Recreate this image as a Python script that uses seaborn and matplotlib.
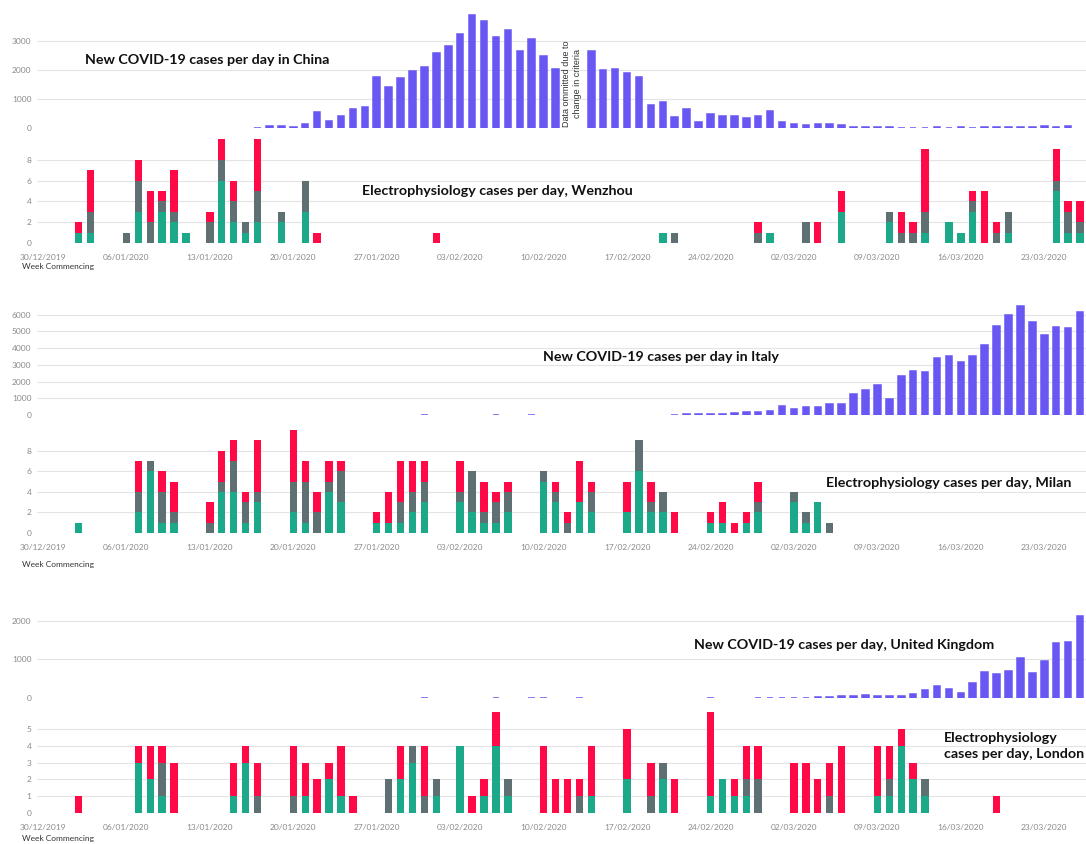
import numpy as np
import pandas as pd
import matplotlib
matplotlib.use("Agg")
import matplotlib.pyplot as plt
import seaborn as sns

# --- dates: one category per day, 30/12/2019 -> 25/03/2020 ---
dates = pd.date_range("2019-12-30", periods=88).strftime("%d/%m/%Y").tolist()

# --- new COVID-19 cases per day (one row per week commencing) ---
china_cases = [
    0, 0, 0, 0, 0, 0, 0,
    0, 0, 0, 0, 0, 0, 0,
    0, 0, 0, 0, 17, 60, 60,
    50, 150, 540, 230, 430, 660, 730,
    1750, 1420, 1740, 1980, 2100, 2580, 2830,
    3230, 3890, 3700, 3140, 3390, 2650, 3060,
    2480, 2020, 0, 0, 2640, 2010, 2050,
    1890, 1750, 800, 890, 390, 650, 200,
    500, 410, 430, 330, 430, 570, 200,
    125, 120, 140, 140, 100, 45, 40,
    20, 25, 15, 10, 11, 20, 16,
    21, 13, 34, 39, 41, 46, 39,
    78, 47, 67, 0,
]
italy_cases = [
    0, 0, 0, 0, 0, 0, 0,
    0, 0, 0, 0, 0, 0, 0,
    0, 0, 0, 0, 0, 0, 0,
    0, 0, 0, 0, 0, 0, 0,
    0, 0, 0, 0, 2, 0, 0,
    0, 0, 0, 1, 0, 0, 1,
    0, 0, 0, 0, 0, 0, 0,
    0, 0, 0, 0, 20, 40, 50,
    60, 80, 120, 160, 200, 240, 560,
    340, 460, 460, 680, 680, 1240, 1500,
    1800, 980, 2350, 2640, 2550, 3400, 3500,
    3200, 3500, 4200, 5300, 6000, 6550, 5560,
    4800, 5250, 5200, 6150,
]
uk_cases = [
    0, 0, 0, 0, 0, 0, 0,
    0, 0, 0, 0, 0, 0, 0,
    0, 0, 0, 0, 0, 0, 0,
    0, 0, 0, 0, 0, 0, 0,
    0, 0, 0, 0, 2, 0, 0,
    0, 0, 0, 1, 0, 0, 1,
    4, 0, 0, 1, 0, 0, 0,
    0, 0, 0, 0, 0, 0, 0,
    4, 0, 0, 0, 5, 3, 12,
    4, 11, 34, 30, 48, 43, 67,
    48, 52, 60, 110, 205, 320, 245,
    140, 390, 670, 630, 705, 1030, 660,
    960, 1420, 1450, 2120,
]

# --- electrophysiology cases (day index from 30/12/2019) ---
wz_days = [3, 4, 7, 8, 9, 10, 11, 12, 14, 15, 16, 17, 18, 20, 22, 23, 33, 52, 53, 60,
           61, 64, 65, 67, 71, 72, 73, 74, 76, 77, 78, 79, 80, 81, 85, 86, 87]
wz_teal = [1, 1, 0, 3, 0, 3, 2, 1, 0, 6, 2, 1, 2, 2, 3, 0, 0, 1, 0, 0,
           1, 0, 0, 3, 2, 0, 0, 1, 2, 1, 3, 0, 0, 1, 5, 1, 1]
wz_grey = [0, 2, 1, 3, 2, 1, 1, 0, 2, 2, 2, 1, 3, 1, 3, 0, 0, 0, 1, 1,
           0, 2, 0, 0, 1, 1, 1, 2, 0, 0, 1, 0, 1, 2, 1, 2, 1]
wz_red = [1, 4, 0, 2, 3, 1, 4, 0, 1, 2, 2, 0, 5, 0, 0, 1, 1, 0, 0, 1,
          0, 0, 2, 2, 0, 2, 1, 6, 0, 0, 1, 5, 1, 0, 3, 1, 2]

mi_days = [3, 8, 9, 10, 11, 14, 15, 16, 17, 18, 21, 22, 23, 24, 25, 28, 29, 30, 31, 32,
           35, 36, 37, 38, 39, 42, 43, 44, 45, 46, 49, 50, 51, 52, 53, 56, 57, 58, 59, 60,
           63, 64, 65, 66]
mi_teal = [1, 2, 6, 1, 1, 0, 4, 4, 1, 3, 2, 1, 0, 4, 3, 1, 1, 1, 2, 3,
           3, 2, 1, 1, 2, 5, 3, 0, 3, 2, 2, 6, 2, 2, 0, 1, 1, 0, 1, 2,
           3, 1, 3, 0]
mi_grey = [0, 2, 1, 3, 1, 1, 1, 3, 2, 1, 3, 4, 2, 1, 3, 0, 0, 2, 2, 2,
           1, 4, 1, 2, 2, 1, 1, 1, 0, 2, 0, 3, 1, 2, 0, 0, 0, 0, 0, 1,
           1, 1, 0, 1]
mi_red = [0, 3, 0, 2, 3, 2, 3, 2, 1, 5, 5, 2, 2, 2, 1, 1, 3, 4, 3, 2,
          3, 0, 3, 1, 1, 0, 1, 1, 4, 1, 3, 0, 2, 0, 2, 1, 2, 1, 1, 2,
          0, 0, 0, 0]

lo_days = [3, 8, 9, 10, 11, 16, 17, 18, 21, 22, 23, 24, 25, 26, 29, 30, 31, 32, 33, 35,
           36, 37, 38, 39, 42, 43, 44, 45, 46, 49, 51, 52, 53, 56, 57, 58, 59, 60, 63, 64,
           65, 66, 67, 70, 71, 72, 73, 74, 80]
lo_teal = [0, 3, 2, 1, 0, 1, 3, 0, 0, 1, 0, 2, 1, 0, 0, 2, 3, 0, 1, 4,
           0, 1, 4, 1, 0, 0, 0, 0, 1, 2, 0, 2, 0, 1, 2, 1, 1, 0, 0, 0,
           0, 0, 0, 1, 1, 4, 2, 1, 0]
lo_grey = [0, 0, 0, 2, 0, 0, 0, 1, 1, 0, 0, 0, 0, 0, 2, 0, 1, 1, 1, 0,
           0, 0, 0, 1, 0, 0, 0, 1, 0, 0, 1, 1, 0, 0, 0, 0, 1, 2, 0, 0,
           0, 1, 0, 0, 1, 0, 0, 1, 0]
lo_red = [1, 1, 2, 1, 3, 2, 1, 2, 3, 2, 2, 1, 3, 1, 0, 2, 0, 3, 0, 0,
          1, 1, 2, 0, 4, 2, 2, 1, 3, 3, 2, 0, 2, 5, 0, 1, 2, 2, 3, 3,
          2, 2, 4, 3, 2, 1, 1, 0, 1]

BLUE = "#6857F2"
TEAL = "#1BA98A"
GREY = "#5E7072"
RED = "#FF0A47"

sns.set_style("white")
plt.rcParams["font.family"] = ["Lato", "DejaVu Sans"]

W, H = 1086, 844
fig = plt.figure(figsize=(W / 100, H / 100), dpi=100)


def panel(top, bottom):
    left, right = 37, 1086
    return fig.add_axes([left / W, 1 - bottom / H, (right - left) / W, (bottom - top) / H])


def style(ax, ylim, yticks, dates_on):
    ax.set_xlim(-0.5, 87.5)
    ax.set_ylim(*ylim)
    ax.set_yticks(yticks)
    ax.set_xlabel("")
    ax.set_ylabel("")
    ax.yaxis.grid(True, color="#e4e4e4", lw=0.8)
    ax.xaxis.grid(False)
    ax.set_axisbelow(True)
    sns.despine(ax=ax, left=True, bottom=True)
    ax.tick_params(axis="both", length=0, labelsize=6, colors="#8a8a8a", pad=4)
    if dates_on:
        ax.set_xticks(range(0, 88, 7))
        ax.set_xticklabels(dates[::7])
        ax.tick_params(axis="x", pad=8)
    else:
        ax.set_xticks([])
    ax.patch.set_alpha(0)


def covid(ax, cases):
    v = np.array(cases, dtype=float)
    df = pd.DataFrame({"date": dates, "cases": np.where(v > 0, v, np.nan)})
    sns.barplot(data=df, x="date", y="cases", order=dates, color=BLUE, saturation=1,
                width=0.55, linewidth=1.1, edgecolor=BLUE, errorbar=None, ax=ax)


def ep(ax, days, teal, grey, red):
    t = np.zeros(88)
    g = np.zeros(88)
    r = np.zeros(88)
    t[days] = teal
    g[days] = grey
    r[days] = red
    df = pd.DataFrame({"date": dates, "teal": t, "grey": t + g, "red": t + g + r})
    for col, c in [("red", RED), ("grey", GREY), ("teal", TEAL)]:
        df[col] = df[col].where(df[col] > 0)
        sns.barplot(data=df, x="date", y=col, order=dates, color=c, saturation=1,
                    width=0.62, linewidth=0, errorbar=None, ax=ax)


ax = panel(12, 128)
covid(ax, china_cases)
style(ax, (0, 4000), [0, 1000, 2000, 3000], False)

ax = panel(139, 243)
ep(ax, wz_days, wz_teal, wz_grey, wz_red)
style(ax, (0, 10), [0, 2, 4, 6, 8], True)

ax = panel(298, 415)
covid(ax, italy_cases)
style(ax, (0, 7000), range(0, 7000, 1000), False)

ax = panel(430, 533)
ep(ax, mi_days, mi_teal, mi_grey, mi_red)
style(ax, (0, 10), [0, 2, 4, 6, 8], True)

ax = panel(613, 698)
covid(ax, uk_cases)
style(ax, (0, 2200), [0, 1000, 2000], False)

ax = panel(712, 813)
ep(ax, lo_days, lo_teal, lo_grey, lo_red)
style(ax, (0, 6), range(0, 6), True)


def label(x, y, s, **kw):
    fig.text(x / W, 1 - y / H, s, **kw)


bold = dict(fontsize=10.3, fontweight="bold", color="#111111", va="center")
label(85, 60, "New COVID-19 cases per day in China", **bold)
label(362, 191, "Electrophysiology cases per day, Wenzhou", **bold)
label(543, 357, "New COVID-19 cases per day in Italy", **bold)
label(826, 483, "Electrophysiology cases per day, Milan", **bold)
label(694, 645, "New COVID-19 cases per day, United Kingdom", **bold)
label(944, 746, "Electrophysiology\ncases per day, London", linespacing=1.45, **bold)
label(572, 84, "Data ommitted due to\nchange in criteria", fontsize=6.5, rotation=90,
      ha="center", va="center", color="#333333", family=["Liberation Sans", "DejaVu Sans"])

for y in (267, 564, 838):
    label(22, y, "Week Commencing", fontsize=6, color="#333333", va="center")

fig.savefig("out.png", dpi=100)
